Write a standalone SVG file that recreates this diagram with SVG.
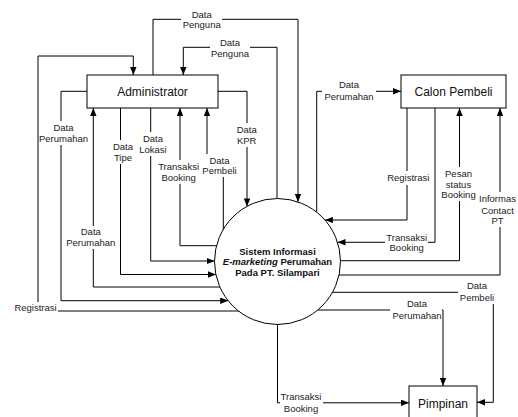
<svg xmlns="http://www.w3.org/2000/svg" width="518" height="417" viewBox="0 0 518 417">
<style>
.box{fill:#fff;stroke:#000;stroke-width:1}
.ent{font-family:"Liberation Sans",Arial,sans-serif;font-size:12px;fill:#111;text-anchor:middle}
.proc{font-family:"Liberation Sans",Arial,sans-serif;font-size:9.5px;font-weight:bold;fill:#111;text-anchor:middle}
.con{fill:none;stroke:#000;stroke-width:1;marker-end:url(#arr)}
.lbl{font-family:"Liberation Sans",Arial,sans-serif;font-size:9.5px;fill:#222;text-anchor:middle}
.bg{fill:#fff}
</style>
<defs>
<marker id="arr" viewBox="0 0 10 8" refX="10" refY="4" markerWidth="8" markerHeight="6.4" markerUnits="userSpaceOnUse" orient="auto">
<path d="M0,0 L10,4 L0,8 z" fill="#000"/>
</marker>
</defs>
<rect width="518" height="417" fill="#fff"/>
<g id="connectors">
<path class="con" d="M153,75 V19.3 H298 V201.9"/>
<path class="con" d="M277,198.5 V47.3 H183.3 V75"/>
<path class="con" d="M240,311 H38 V56 H133.3 V75"/>
<path class="con" d="M87,91.3 H61 V300.7 H228.2"/>
<path class="con" d="M220,287 H93.3 V108"/>
<path class="con" d="M120.5,108 V274.5 H215.9"/>
<path class="con" d="M150.7,108 V261 H214.5"/>
<path class="con" d="M217,245.7 H180 V108"/>
<path class="con" d="M223.3,231 V166 H207 V108"/>
<path class="con" d="M218,91.3 H247 V206.4"/>
<path class="con" d="M316.7,212.5 V91.3 H401"/>
<path class="con" d="M407,108 V220 H324.9"/>
<path class="con" d="M435,108 V242.3 H337.5"/>
<path class="con" d="M340.5,260.7 H459.5 V108"/>
<path class="con" d="M338.5,275 H500 V108"/>
<path class="con" d="M332,292.3 H493.3 V402.3 H477"/>
<path class="con" d="M317,310 H443 V386"/>
<path class="con" d="M277.5,324.5 V402.8 H409"/>
</g>
<g id="labels">
<rect class="bg" x="181" y="9" width="41" height="22"/>
<text class="lbl" x="201.7" y="17.5">Data</text><text class="lbl" x="201.7" y="28">Penguna</text>
<rect class="bg" x="210" y="37" width="40" height="22"/>
<text class="lbl" x="230" y="46">Data</text><text class="lbl" x="230" y="56.5">Penguna</text>
<rect class="bg" x="40" y="121" width="48" height="24"/>
<text class="lbl" x="63.5" y="130.5">Data</text><text class="lbl" x="63.5" y="141.5">Perumahan</text>
<rect class="bg" x="112" y="140" width="22" height="24"/>
<text class="lbl" x="123" y="149.5">Data</text><text class="lbl" x="123" y="161">Tipe</text>
<rect class="bg" x="139" y="132" width="29" height="24"/>
<text class="lbl" x="153" y="142">Data</text><text class="lbl" x="153" y="153">Lokasi</text>
<rect class="bg" x="157" y="160" width="43" height="24"/>
<text class="lbl" x="178.6" y="170.2">Transaksi</text><text class="lbl" x="178.6" y="181">Booking</text>
<rect class="bg" x="201" y="154" width="37" height="23"/>
<text class="lbl" x="219.5" y="163.5">Data</text><text class="lbl" x="219.5" y="174.2">Pembeli</text>
<rect class="bg" x="234" y="123" width="25" height="24"/>
<text class="lbl" x="246.7" y="132.5">Data</text><text class="lbl" x="246.7" y="144">KPR</text>
<rect class="bg" x="65" y="226" width="51" height="23"/>
<text class="lbl" x="90.8" y="235">Data</text><text class="lbl" x="90.8" y="246">Perumahan</text>
<rect class="bg" x="13" y="302" width="45" height="12"/>
<text class="lbl" x="35.5" y="311">Registrasi</text>
<rect class="bg" x="322" y="78" width="54" height="24"/>
<text class="lbl" x="349" y="88">Data</text><text class="lbl" x="349" y="99.5">Perumahan</text>
<rect class="bg" x="387" y="171" width="43" height="14"/>
<text class="lbl" x="408.3" y="181">Registrasi</text>
<rect class="bg" x="385" y="231" width="43" height="23"/>
<text class="lbl" x="406.7" y="241">Transaksi</text><text class="lbl" x="406.7" y="251.3">Booking</text>
<rect class="bg" x="439" y="167" width="39" height="34"/>
<text class="lbl" x="458.5" y="177">Pesan</text><text class="lbl" x="458.5" y="187.5">status</text><text class="lbl" x="458.5" y="198">Booking</text>
<rect class="bg" x="479" y="192" width="39" height="35"/>
<text class="lbl" x="497.5" y="202">Informas</text><text class="lbl" x="497.5" y="213.5">Contact</text><text class="lbl" x="497.5" y="224">PT</text>
<rect class="bg" x="458" y="280" width="38" height="24"/>
<text class="lbl" x="477" y="289.2">Data</text><text class="lbl" x="477" y="301">Pembeli</text>
<rect class="bg" x="390" y="298" width="52" height="23"/>
<text class="lbl" x="417" y="307">Data</text><text class="lbl" x="417" y="318.5">Perumahan</text>
<rect class="bg" x="280" y="390" width="43" height="25"/>
<text class="lbl" x="301" y="400">Transaksi</text><text class="lbl" x="301" y="411.7">Booking</text>
</g>
<g id="administrator">
<rect class="box" x="87" y="75" width="131" height="33"/>
<text class="ent" x="152.5" y="96">Administrator</text>
</g>
<g id="calon-pembeli">
<rect class="box" x="401" y="75" width="105" height="33"/>
<text class="ent" x="453.5" y="96">Calon Pembeli</text>
</g>
<g id="pimpinan">
<rect class="box" x="409" y="386" width="68" height="34"/>
<text class="ent" x="443" y="407.5">Pimpinan</text>
</g>
<g id="sistem">
<circle cx="277.5" cy="261.5" r="63" fill="#fff" stroke="#000" stroke-width="1"/>
<text class="proc" x="277.5" y="254.5">Sistem Informasi</text>
<text class="proc" x="277.5" y="265"><tspan font-style="italic">E-marketing</tspan> Perumahan</text>
<text class="proc" x="277.5" y="275.5">Pada PT. Silampari</text>
</g>
</svg>
